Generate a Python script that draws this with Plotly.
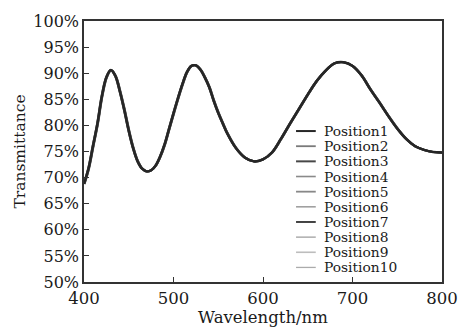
import plotly.graph_objects as go

# Wavelength (nm) and transmittance (%)
wavelength = [400, 405, 410, 415, 420, 425, 430, 435, 440, 445, 450, 455, 460, 465,
              470, 475, 480, 485, 490, 495, 500, 505, 510, 515, 520, 525, 530, 535,
              540, 545, 550, 555, 560, 570, 580, 590, 600, 610, 620, 630, 640, 650,
              660, 670, 680, 690, 700, 710, 720, 730, 740, 750, 760, 770, 780, 790,
              800]
transmittance = [68.8, 71.7, 76.0, 80.3, 85.6, 89.2, 90.6, 89.5, 86.6, 83.0, 79.0, 75.6,
                 73.1, 71.7, 71.2, 71.4, 72.3, 74.0, 76.3, 79.3, 82.3, 85.2, 87.9, 90.2,
                 91.4, 91.5, 90.7, 89.2, 87.3, 84.7, 82.4, 80.4, 78.5, 75.6, 73.8, 73.1,
                 73.5, 74.8, 77.4, 80.3, 83.1, 85.9, 88.5, 90.5, 91.9, 92.1, 91.4, 89.6,
                 86.9, 84.4, 81.8, 79.4, 77.4, 76.0, 75.3, 74.9, 74.8]

positions = ["Position1", "Position2", "Position3", "Position4", "Position5",
             "Position6", "Position7", "Position8", "Position9", "Position10"]
# small per-position wavelength shifts (nm), estimated from the line blur
shift_nm = [0.0, 0.6, -0.3, 0.4, 0.8, -0.6, 0.2, 0.9, -0.7, 0.5]
colors = ["#262626", "#7a7a7a", "#474747", "#8a8a8a", "#888888",
          "#9a9a9a", "#424242", "#a0a0a0", "#bdbdbd", "#ababab"]
widths = [2.4, 1.8, 2.2, 1.6, 1.8, 1.5, 2.2, 1.3, 1.6, 1.3]

y_ticks = [50, 55, 60, 65, 70, 75, 80, 85, 90, 95, 100]
y_ticktext = [f"{v}%" for v in y_ticks]
x_ticks = [400, 500, 600, 700, 800]

serif = "DejaVu Serif, Liberation Serif, serif"
txt = "#1a1a1a"

fig = go.Figure()
# draw light lines first so the dark ones sit on top
order = sorted(range(len(positions)), key=lambda i: -int(colors[i][1:3], 16))
for i in order:
    fig.add_trace(go.Scatter(
        x=[v + shift_nm[i] for v in wavelength], y=transmittance, name=positions[i],
        mode="lines", showlegend=False,
        line=dict(color=colors[i], width=widths[i], shape="spline", smoothing=1.0),
    ))

# manual legend (compact line spacing as in the reference)
L, R, T, B = 84, 447, 15, 283
pw, ph = R - L, B - T
first_y, step = 128, 15.56
for i, name in enumerate(positions):
    py = first_y + step * i
    yp = (B - py) / ph
    fig.add_shape(type="line", xref="paper", yref="paper",
                  x0=(299 - L) / pw, x1=(319 - L) / pw, y0=yp, y1=yp,
                  line=dict(color=colors[i], width=min(widths[i], 2.0)))
    fig.add_annotation(x=(326 - L) / pw, y=yp, xref="paper", yref="paper",
                       text=name, showarrow=False, xanchor="left", yanchor="middle",
                       borderpad=0,
                       font=dict(family=serif, size=13.8, color=txt))

fig.update_layout(
    width=470, height=336,
    margin=dict(l=L, r=470 - R, t=T, b=336 - B),
    paper_bgcolor="white", plot_bgcolor="white",
    font=dict(family=serif, size=16, color=txt),
    showlegend=False,
    xaxis=dict(range=[400, 800], tickvals=x_ticks, ticks="inside", ticklen=5,
               tickcolor="#333333", showline=True, linecolor="#333333", linewidth=1.5,
               mirror=True, showgrid=False, zeroline=False,
               tickfont=dict(size=16.5),
               title=dict(text="Wavelength/nm", standoff=5, font=dict(size=16.5))),
    yaxis=dict(range=[50, 100], tickvals=y_ticks, ticktext=y_ticktext, ticks="inside",
               ticklen=5, tickcolor="#333333", showline=True, linecolor="#333333",
               linewidth=1.5, mirror=True, showgrid=False, zeroline=False,
               tickfont=dict(size=16),
               title=dict(text="Transmittance", standoff=4, font=dict(size=15.5))),
)

fig.write_html("out.html")
